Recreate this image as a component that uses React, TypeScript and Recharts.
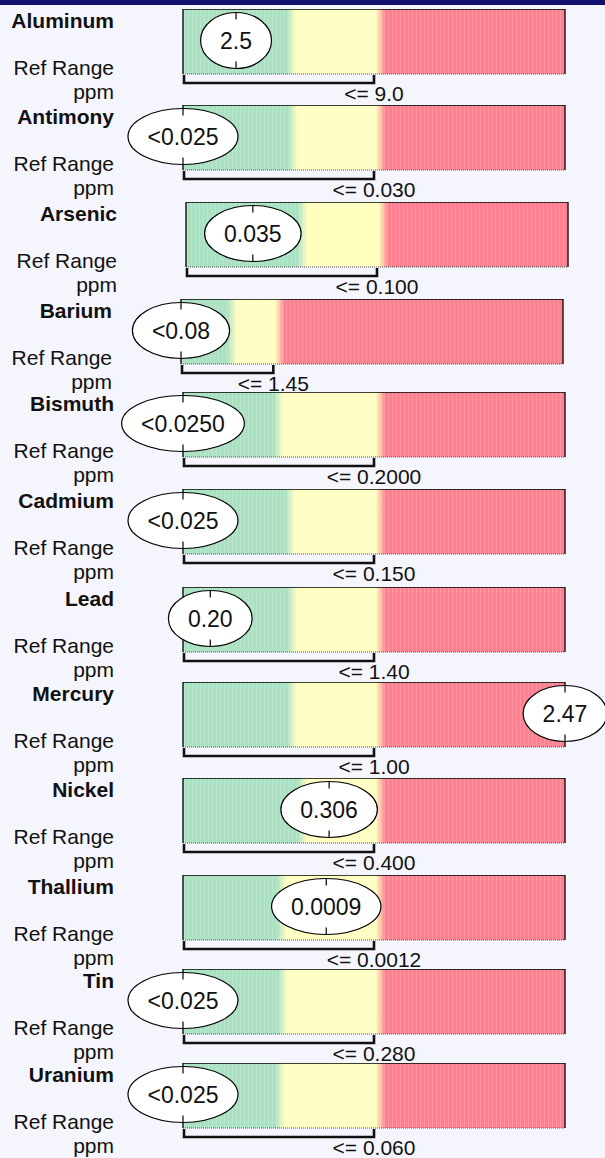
import React from 'react';
import { ComposedChart, XAxis, YAxis, ReferenceArea, Scatter } from 'recharts';

// one row per element of the heavy metals panel
const analytes = ['Aluminum', 'Antimony', 'Arsenic', 'Barium', 'Bismuth', 'Cadmium', 'Lead', 'Mercury', 'Nickel', 'Thallium', 'Tin', 'Uranium'];
const results = ['2.5', '<0.025', '0.035', '<0.08', '<0.0250', '<0.025', '0.20', '2.47', '0.306', '0.0009', '<0.025', '<0.025'];
const refLimits = ['9.0', '0.030', '0.100', '1.45', '0.2000', '0.150', '1.40', '1.00', '0.400', '0.0012', '0.280', '0.060'];
const scaleMax = [18, 0.06, 0.2, 6, 0.4, 0.3, 2.8, 2, 0.8, 0.0024, 0.56, 0.12];
const greenLimits = [5.1, 0.0172, 0.061, 0.8, 0.1, 0.084, 0.8, 0.57, 0.25, 0.00062, 0.146, 0.0305];
const unit = 'ppm';

// layout of the rows on the page
const rowTops = [8.5, 105, 202, 299, 392, 489, 587, 682, 778, 875, 969, 1063];
const rowShift = [0, 0, 3, -2, 0, 0, 0, 0, 0, 0, 0, 0];

const W = 605;
const ROW_H = 95;
const BAR_LEFT = 183;
const BAR_W = 382;
const BAR_H = 65;
const FONT = '"Liberation Sans", Arial, Helvetica, sans-serif';

const GREEN = '#a9e1c2';
const YELLOW = '#ffffc0';
const RED = '#ff8091';

function textWidth(s: string, size: number) {
    let w = 0;
    for (const ch of s) {
        if (ch === '.') w += 0.278;
        else if (ch === '<') w += 0.584;
        else w += 0.556;
    }
    return w * size;
}

function Bar(props: any) {
    const { x, y, width, height, idx } = props;
    const g = greenLimits[idx] / scaleMax[idx];
    const r = parseFloat(refLimits[idx]) / scaleMax[idx];
    const id = `zone${idx}`;
    return <g>
        <defs>
            <linearGradient id={id} x1="0" y1="0" x2="1" y2="0">
                <stop offset={0} stopColor={GREEN} />
                <stop offset={g - 0.013} stopColor={GREEN} />
                <stop offset={g + 0.013} stopColor={YELLOW} />
                <stop offset={r + 0.004} stopColor={YELLOW} />
                <stop offset={r + 0.03} stopColor={RED} />
                <stop offset={1} stopColor={RED} />
            </linearGradient>
            <pattern id={`stripe${idx}`} width={4} height={10} patternUnits="userSpaceOnUse">
                <rect x={0} y={0} width={1} height={10} fill="#fff" fillOpacity={0.16} />
            </pattern>
        </defs>
        <rect x={x} y={y} width={width} height={height} fill={`url(#${id})`} />
        <rect x={x} y={y} width={width} height={height} fill={`url(#stripe${idx})`} />
        <path d={`M${x},${y + height} V${y} H${x + width} V${y + height}`} fill="none" stroke="#000" strokeWidth={1.3} />
        <line x1={x} x2={x + width} y1={y + height} y2={y + height} stroke="#555" strokeWidth={1} strokeDasharray="1 1" />
        <text x={x - 69} y={y + 19} textAnchor="end" fontFamily={FONT} fontSize={21} fontWeight="bold" fill="#111">{analytes[idx]}</text>
        <text x={x - 69} y={y + 66} textAnchor="end" fontFamily={FONT} fontSize={21} fill="#111">Ref Range</text>
        <text x={x - 69} y={y + 90} textAnchor="end" fontFamily={FONT} fontSize={21} fill="#111">{unit}</text>
    </g>
}

function Bracket(props: any) {
    const { x, y, width, height, idx } = props;
    const top = y + height + 1;
    const bottom = y + height + 9;
    return <g>
        <path d={`M${x + 1},${top} V${bottom} H${x + width} V${top}`} fill="none" stroke="#111" strokeWidth={2.6} />
        <text x={x + width} y={y + 91.5} textAnchor="middle" fontFamily={FONT} fontSize={21} fill="#111">{'<= ' + refLimits[idx]}</text>
    </g>
}

function Marker(props: any) {
    const { cx, cy, payload } = props;
    const label: string = payload.label;
    const size = 23;
    const rx = textWidth(label, size) / 2 + 19.5;
    const ry = 28;
    const c = cy - 1;
    return <g>
        <ellipse cx={cx} cy={c} rx={rx} ry={ry} fill="#fff" stroke="#000" strokeWidth={1.2} />
        <line x1={cx} x2={cx} y1={c - ry} y2={c - ry + 7} stroke="#000" strokeWidth={1.2} />
        <line x1={cx} x2={cx} y1={c + ry - 7} y2={c + ry} stroke="#000" strokeWidth={1.2} />
        <text x={cx} y={c + 8} textAnchor="middle" fontFamily={FONT} fontSize={size} fill="#111">{label}</text>
    </g>
}

function Row({ idx }: { idx: number }) {
    const max = scaleMax[idx];
    const res = results[idx];
    // below-detection results sit at the start of the scale, results past the scale sit at its end
    const plotX = res.startsWith('<') ? 0 : Math.min(parseFloat(res), max);
    const point = [{ x: plotX, y: 0.5, label: res }];
    return <div style={{ position: 'absolute', top: rowTops[idx], left: rowShift[idx] }}>
        <ComposedChart width={W} height={ROW_H} data={point} style={{ overflow: 'visible' }}
            margin={{ top: 0, right: W - BAR_LEFT - BAR_W, bottom: ROW_H - BAR_H, left: BAR_LEFT }}>
            <XAxis type="number" dataKey="x" domain={[0, max]} hide />
            <YAxis type="number" dataKey="y" domain={[0, 1]} hide />
            <ReferenceArea x1={0} x2={max} shape={(p: any) => <Bar {...p} idx={idx} />} />
            <ReferenceArea x1={0} x2={parseFloat(refLimits[idx])} shape={(p: any) => <Bracket {...p} idx={idx} />} />
            <Scatter dataKey="y" isAnimationActive={false} shape={(p: any) => <Marker {...p} />} />
        </ComposedChart>
    </div>
}

export default function App() {
    return <div style={{ position: 'absolute', top: 0, left: 0, width: W, height: 1158, background: '#f5f5fd', overflow: 'hidden' }}>
        <div style={{ position: 'absolute', top: 0, left: 0, width: W, height: 5, background: '#10106e' }} />
        {analytes.map((_, i) => <Row key={analytes[i]} idx={i} />)}
    </div>
}
